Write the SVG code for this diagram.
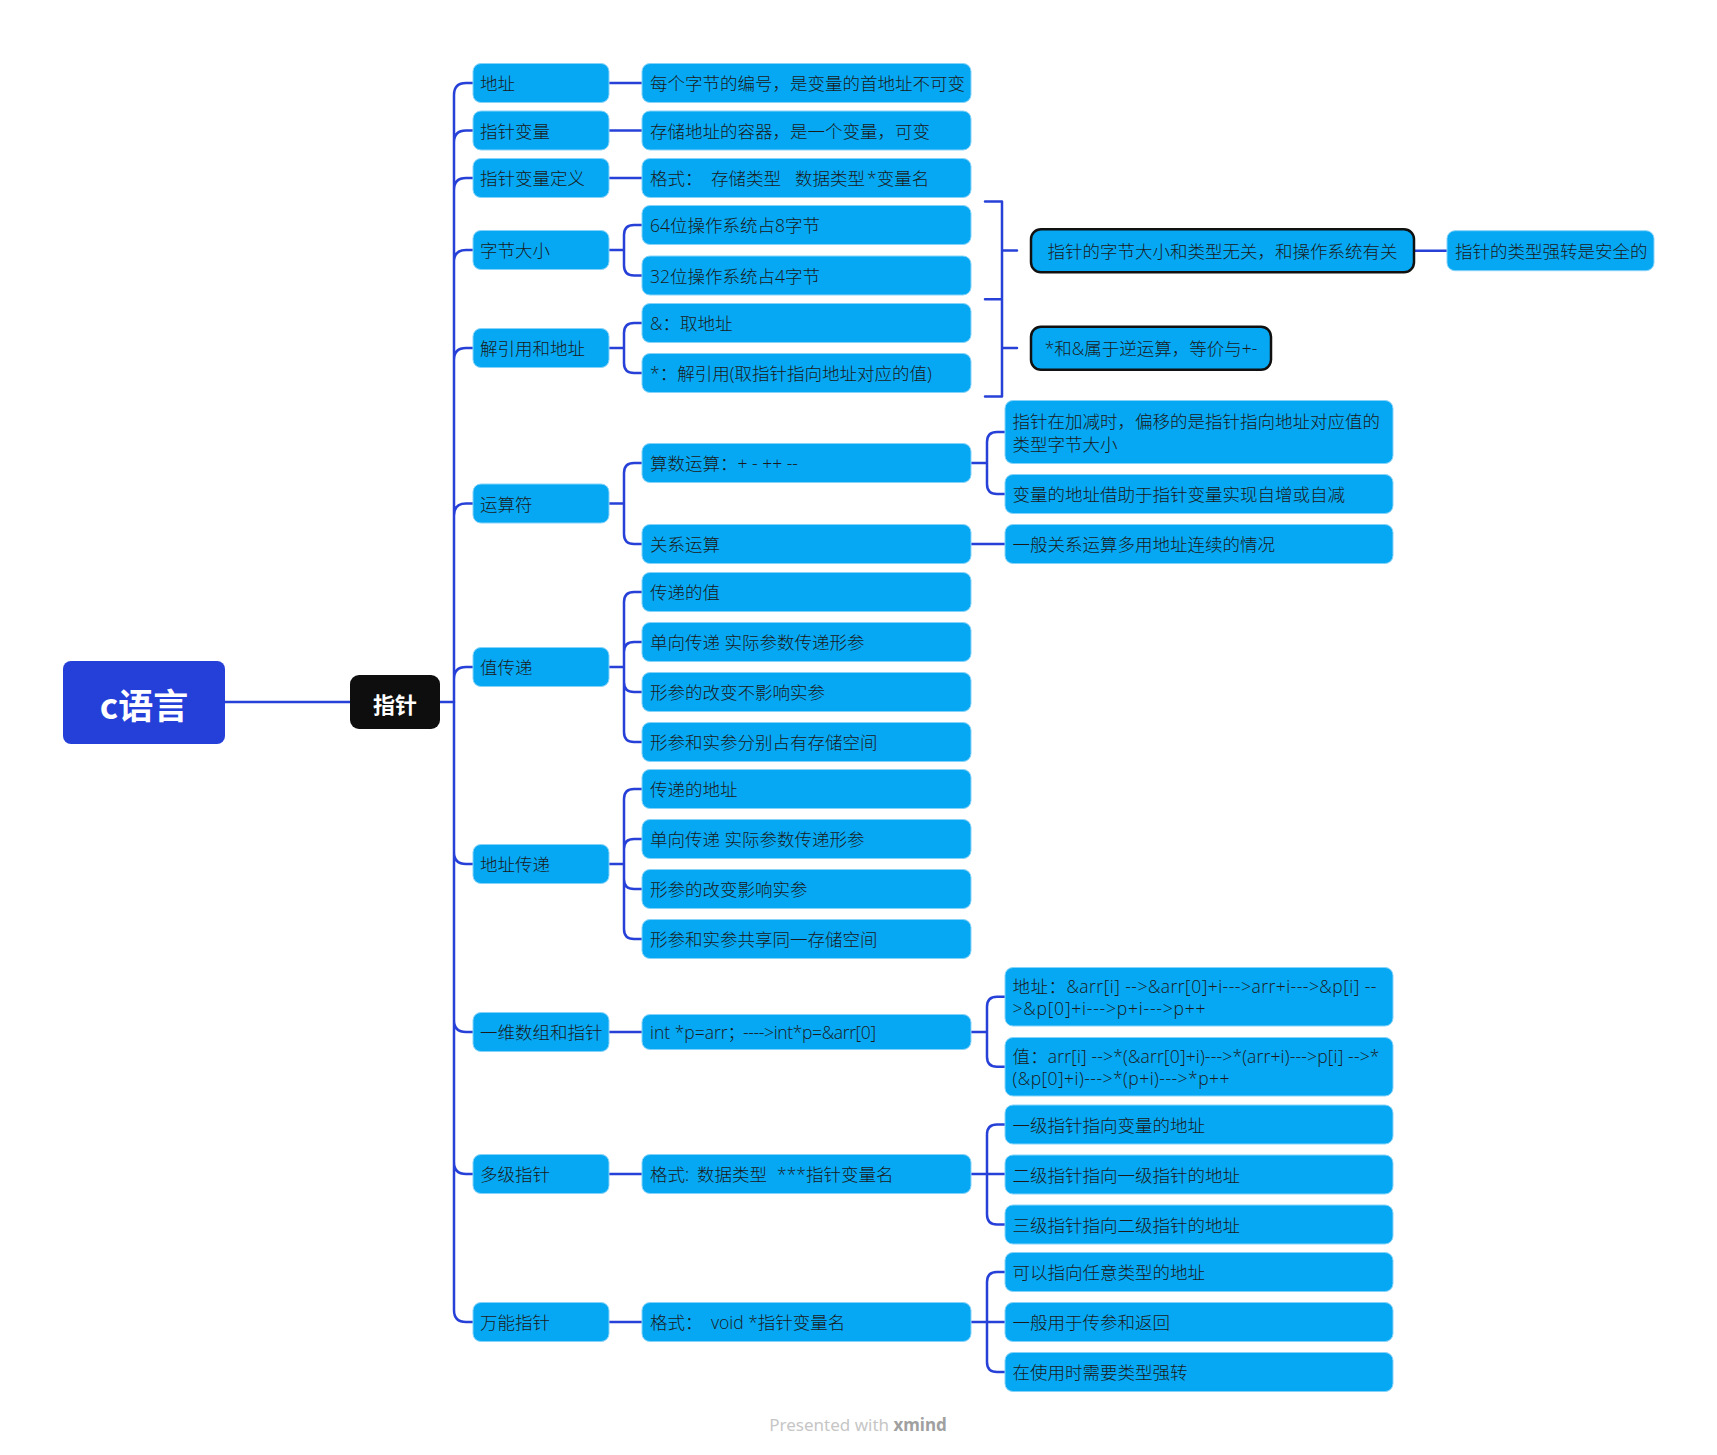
<svg xmlns="http://www.w3.org/2000/svg" width="1717" height="1455" viewBox="0 0 1717 1455">
<style>
.bx{fill:#06a8f3;stroke:#86d3f9;stroke-width:1}
.sm{fill:#06a8f3;stroke:#111;stroke-width:2.5}
.t{font-family:"Open Sans","Noto Sans CJK SC",sans-serif;font-size:17.5px;font-weight:300;fill:#1a1a1a;dominant-baseline:central}
.c{fill:none;stroke:#2741d8;stroke-width:2.5;stroke-linecap:round;stroke-linejoin:round}
.w{font-family:"Noto Sans CJK SC","Noto Sans",sans-serif;font-weight:700;fill:#fff;dominant-baseline:central;text-anchor:middle}
</style>
<rect width="1717" height="1455" fill="#fff"/>
<g id="connectors">
<path class="c" d="M225,702 H350 M440,702 H454"/>
<path class="c" d="M454,702 V95 Q454,83 466,83 H473 M454,702 V142.5 Q454,130.5 466,130.5 H473 M454,702 V190 Q454,178 466,178 H473 M454,702 V262 Q454,250 466,250 H473 M454,702 V360 Q454,348 466,348 H473 M454,702 V515.5 Q454,503.5 466,503.5 H473 M454,702 V679 Q454,667 466,667 H473 M454,702 V852 Q454,864 466,864 H473 M454,702 V1020 Q454,1032 466,1032 H473 M454,702 V1162 Q454,1174 466,1174 H473 M454,702 V1310 Q454,1322 466,1322 H473"/>
<path class="c" d="M609,83 H642 M609,130.5 H642 M609,178 H642"/>
<path class="c" d="M609,250 H624 M624,250 V235 Q624,225 634,225 H642 M624,250 V265.5 Q624,275.5 634,275.5 H642"/>
<path class="c" d="M609,348 H624 M624,348 V333 Q624,323 634,323 H642 M624,348 V363 Q624,373 634,373 H642"/>
<path class="c" d="M609,503.5 H624 M624,503.5 V473 Q624,463 634,463 H642 M624,503.5 V534 Q624,544 634,544 H642"/>
<path class="c" d="M609,667 H624 M624,667 V602 Q624,592 634,592 H642 M624,667 V652 Q624,642 634,642 H642 M624,667 V682 Q624,692 634,692 H642 M624,667 V732 Q624,742 634,742 H642"/>
<path class="c" d="M609,864 H624 M624,864 V799 Q624,789 634,789 H642 M624,864 V849 Q624,839 634,839 H642 M624,864 V879 Q624,889 634,889 H642 M624,864 V929 Q624,939 634,939 H642"/>
<path class="c" d="M609,1032 H642 M609,1174 H642 M609,1322 H642"/>
<path class="c" d="M971,463 H987 M987,463 V442 Q987,432 997,432 H1005 M987,463 V484 Q987,494 997,494 H1005"/>
<path class="c" d="M971,544 H1005"/>
<path class="c" d="M971,1032 H987 M987,1032 V1006.75 Q987,996.75 997,996.75 H1005 M987,1032 V1056.75 Q987,1066.75 997,1066.75 H1005"/>
<path class="c" d="M971,1174 H1005 M987,1174 V1134.5 Q987,1124.5 997,1124.5 H1005 M987,1174 V1214.5 Q987,1224.5 997,1224.5 H1005"/>
<path class="c" d="M971,1322 H1005 M987,1322 V1282 Q987,1272 997,1272 H1005 M987,1322 V1362 Q987,1372 997,1372 H1005"/>
<path class="c" d="M985,201.5 H1002 V396.5 H985 M985,299.3 H1002 M1002,250.5 H1017 M1002,348 H1017" stroke-linecap="butt"/>
<path class="c" d="M1414,250.7 H1447"/>
</g>
<g id="root"><rect x="63" y="661" width="162" height="83" rx="8" fill="#2540d9"/><text class="w" x="144" y="703" font-size="35">c语言</text></g>
<g id="n-zhizhen"><rect x="350" y="675" width="90" height="54" rx="9" fill="#0e0e0e"/><text class="w" x="395" y="702.5" font-size="22">指针</text></g>

<g id="n1"><rect class="bx" x="473" y="63.5" width="136" height="39" rx="8"/><text class="t" x="480" y="83">地址</text></g>
<g id="n2"><rect class="bx" x="473" y="111" width="136" height="39" rx="8"/><text class="t" x="480" y="130.5">指针变量</text></g>
<g id="n3"><rect class="bx" x="473" y="158.5" width="136" height="39" rx="8"/><text class="t" x="480" y="178">指针变量定义</text></g>
<g id="n4"><rect class="bx" x="473" y="230.5" width="136" height="39" rx="8"/><text class="t" x="480" y="250">字节大小</text></g>
<g id="n5"><rect class="bx" x="473" y="328.5" width="136" height="39" rx="8"/><text class="t" x="480" y="348">解引用和地址</text></g>
<g id="n6"><rect class="bx" x="473" y="484" width="136" height="39" rx="8"/><text class="t" x="480" y="503.5">运算符</text></g>
<g id="n7"><rect class="bx" x="473" y="647.5" width="136" height="39" rx="8"/><text class="t" x="480" y="667">值传递</text></g>
<g id="n8"><rect class="bx" x="473" y="844.5" width="136" height="39" rx="8"/><text class="t" x="480" y="864">地址传递</text></g>
<g id="n9"><rect class="bx" x="473" y="1012.5" width="136" height="39" rx="8"/><text class="t" x="480" y="1032">一维数组和指针</text></g>
<g id="n10"><rect class="bx" x="473" y="1154.5" width="136" height="39" rx="8"/><text class="t" x="480" y="1174">多级指针</text></g>
<g id="n11"><rect class="bx" x="473" y="1302.5" width="136" height="39" rx="8"/><text class="t" x="480" y="1322">万能指针</text></g>

<g id="n1-1"><rect class="bx" x="642" y="63.5" width="329" height="39" rx="8"/><text class="t" x="650" y="83">每个字节的编号，是变量的首地址不可变</text></g>
<g id="n2-1"><rect class="bx" x="642" y="111" width="329" height="39" rx="8"/><text class="t" x="650" y="130.5">存储地址的容器，是一个变量，可变</text></g>
<g id="n3-1"><rect class="bx" x="642" y="158.5" width="329" height="39" rx="8"/><text class="t" y="178"><tspan x="650">格式：</tspan><tspan x="711">存储类型</tspan><tspan x="795">数据类型</tspan><tspan x="867">*变量名</tspan></text></g>
<g id="n4-1"><rect class="bx" x="642" y="205.5" width="329" height="39" rx="8"/><text class="t" x="650" y="225">64位操作系统占8字节</text></g>
<g id="n4-2"><rect class="bx" x="642" y="256" width="329" height="39" rx="8"/><text class="t" x="650" y="275.5">32位操作系统占4字节</text></g>
<g id="n5-1"><rect class="bx" x="642" y="303.5" width="329" height="39" rx="8"/><text class="t" x="650" y="323">&amp;：取地址</text></g>
<g id="n5-2"><rect class="bx" x="642" y="353.5" width="329" height="39" rx="8"/><text class="t" x="650" y="373">*：解引用(取指针指向地址对应的值)</text></g>
<g id="s1"><rect class="sm" x="1031" y="229.3" width="383" height="43" rx="10"/><text class="t" x="1222.5" y="250.8" text-anchor="middle">指针的字节大小和类型无关，和操作系统有关</text></g>
<g id="s1-1"><rect class="bx" x="1447" y="230.7" width="207" height="40" rx="8"/><text class="t" x="1455" y="250.7">指针的类型强转是安全的</text></g>
<g id="s2"><rect class="sm" x="1031" y="326.7" width="240" height="43" rx="10"/><text class="t" x="1151" y="348.3" text-anchor="middle">*和&amp;属于逆运算，等价与+-</text></g>

<g id="n6-1"><rect class="bx" x="642" y="443.5" width="329" height="39" rx="8"/><text class="t" x="650" y="463">算数运算：+ - ++ --</text></g>
<g id="n6-2"><rect class="bx" x="642" y="524.5" width="329" height="39" rx="8"/><text class="t" x="650" y="544">关系运算</text></g>
<g id="n6-1-1"><rect class="bx" x="1005" y="400.5" width="388" height="63" rx="8"/><text class="t" x="1012.5" y="420.5">指针在加减时，偏移的是指针指向地址对应值的</text><text class="t" x="1012.5" y="444">类型字节大小</text></g>
<g id="n6-1-2"><rect class="bx" x="1005" y="474.5" width="388" height="39" rx="8"/><text class="t" x="1012.5" y="494">变量的地址借助于指针变量实现自增或自减</text></g>
<g id="n6-2-1"><rect class="bx" x="1005" y="524.5" width="388" height="39" rx="8"/><text class="t" x="1012.5" y="544">一般关系运算多用地址连续的情况</text></g>

<g id="n7-1"><rect class="bx" x="642" y="572.5" width="329" height="39" rx="8"/><text class="t" x="650" y="592">传递的值</text></g>
<g id="n7-2"><rect class="bx" x="642" y="622.5" width="329" height="39" rx="8"/><text class="t" x="650" y="642">单向传递 实际参数传递形参</text></g>
<g id="n7-3"><rect class="bx" x="642" y="672.5" width="329" height="39" rx="8"/><text class="t" x="650" y="692">形参的改变不影响实参</text></g>
<g id="n7-4"><rect class="bx" x="642" y="722.5" width="329" height="39" rx="8"/><text class="t" x="650" y="742">形参和实参分别占有存储空间</text></g>
<g id="n8-1"><rect class="bx" x="642" y="769.5" width="329" height="39" rx="8"/><text class="t" x="650" y="789">传递的地址</text></g>
<g id="n8-2"><rect class="bx" x="642" y="819.5" width="329" height="39" rx="8"/><text class="t" x="650" y="839">单向传递 实际参数传递形参</text></g>
<g id="n8-3"><rect class="bx" x="642" y="869.5" width="329" height="39" rx="8"/><text class="t" x="650" y="889">形参的改变影响实参</text></g>
<g id="n8-4"><rect class="bx" x="642" y="919.5" width="329" height="39" rx="8"/><text class="t" x="650" y="939">形参和实参共享同一存储空间</text></g>

<g id="n9-1"><rect class="bx" x="642" y="1014.5" width="329" height="35" rx="8"/><text class="t" y="1032"><tspan x="650">int *p=arr；</tspan><tspan x="743" textLength="133">---->int*p=&amp;arr[0]</tspan></text></g>
<g id="n9-1-1"><rect class="bx" x="1005" y="967.5" width="388" height="58.5" rx="8"/><text class="t" x="1012.5" y="986" textLength="364">地址：&amp;arr[i] --&gt;&amp;arr[0]+i---&gt;arr+i---&gt;&amp;p[i] --</text><text class="t" x="1012.5" y="1008" textLength="193">&gt;&amp;p[0]+i---&gt;p+i---&gt;p++</text></g>
<g id="n9-1-2"><rect class="bx" x="1005" y="1037.5" width="388" height="58.5" rx="8"/><text class="t" x="1012.5" y="1056" textLength="367">值：arr[i] --&gt;*(&amp;arr[0]+i)---&gt;*(arr+i)---&gt;p[i] --&gt;*</text><text class="t" x="1012.5" y="1078" textLength="217">(&amp;p[0]+i)---&gt;*(p+i)---&gt;*p++</text></g>

<g id="n10-1"><rect class="bx" x="642" y="1154.5" width="329" height="39" rx="8"/><text class="t" y="1174"><tspan x="650">格式:</tspan><tspan x="697">数据类型</tspan><tspan x="777">***指针变量名</tspan></text></g>
<g id="n10-1-1"><rect class="bx" x="1005" y="1105" width="388" height="39" rx="8"/><text class="t" x="1012.5" y="1124.5">一级指针指向变量的地址</text></g>
<g id="n10-1-2"><rect class="bx" x="1005" y="1155" width="388" height="39" rx="8"/><text class="t" x="1012.5" y="1174.5">二级指针指向一级指针的地址</text></g>
<g id="n10-1-3"><rect class="bx" x="1005" y="1205" width="388" height="39" rx="8"/><text class="t" x="1012.5" y="1224.5">三级指针指向二级指针的地址</text></g>

<g id="n11-1"><rect class="bx" x="642" y="1302.5" width="329" height="39" rx="8"/><text class="t" y="1322"><tspan x="650">格式：</tspan><tspan x="711">void *指针变量名</tspan></text></g>
<g id="n11-1-1"><rect class="bx" x="1005" y="1252.5" width="388" height="39" rx="8"/><text class="t" x="1012.5" y="1272">可以指向任意类型的地址</text></g>
<g id="n11-1-2"><rect class="bx" x="1005" y="1302.5" width="388" height="39" rx="8"/><text class="t" x="1012.5" y="1322">一般用于传参和返回</text></g>
<g id="n11-1-3"><rect class="bx" x="1005" y="1352.5" width="388" height="39" rx="8"/><text class="t" x="1012.5" y="1372">在使用时需要类型强转</text></g>

<text x="858" y="1424" text-anchor="middle" dominant-baseline="central" font-family="Noto Sans, sans-serif" font-size="17" fill="#c6c6c6">Presented with <tspan font-weight="700" fill="#a0a0a0">xmind</tspan></text>
</svg>
